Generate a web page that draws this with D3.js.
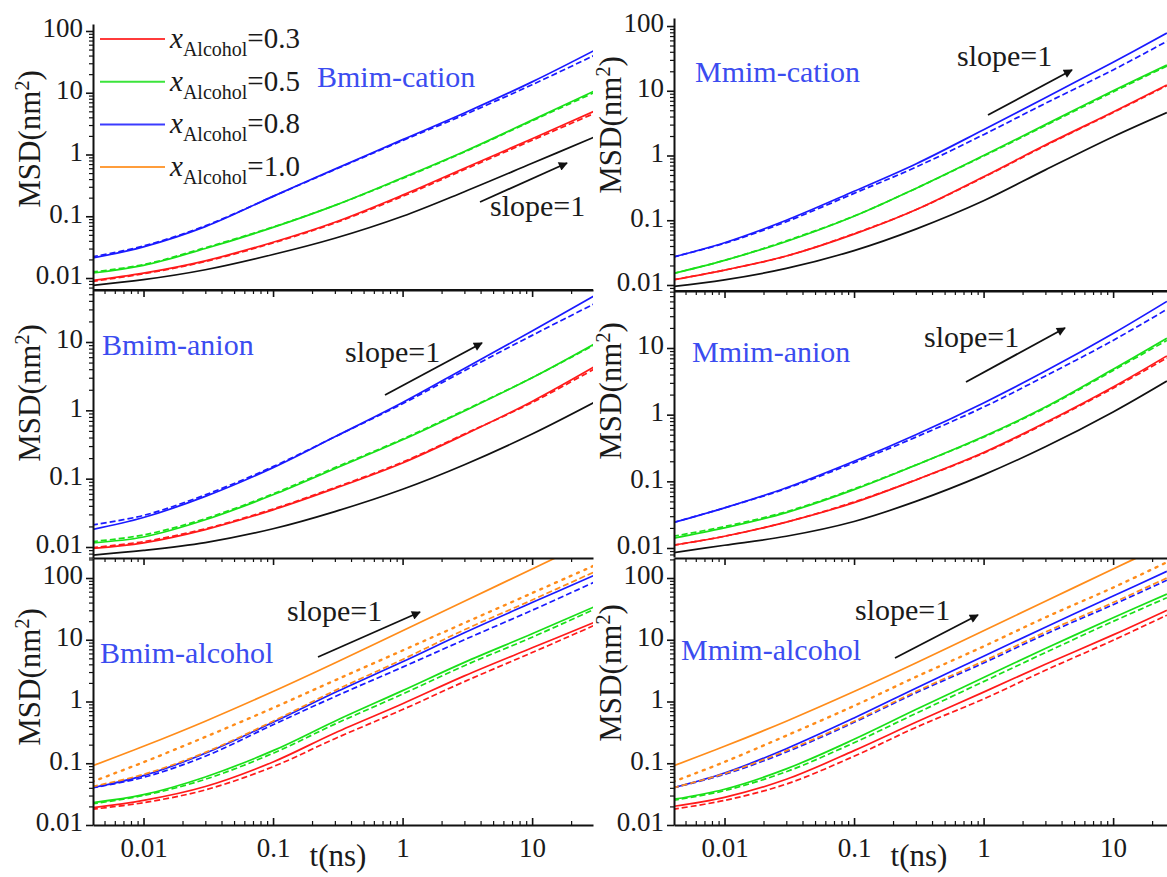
<!DOCTYPE html>
<html><head><meta charset="utf-8">
<script src="https://cdn.jsdelivr.net/npm/d3@7"></script>
<style>body{margin:0;background:#fff}svg{display:block}</style>
</head><body><svg id="c" width="1167" height="877"></svg>
<script>
// ---------------- data (t in ns, MSD in nm^2) ----------------
const tLeft  = [0.004, 0.01, 0.03, 0.1, 0.3, 1, 3, 10, 30];
const tRight = [0.004, 0.01, 0.03, 0.1, 0.3, 1, 3, 10, 26];

const xTickLabels = [0.01, 0.1, 1, 10];
const yTickLabels = [0.01, 0.1, 1, 10, 100];

const legendLabels = ["0.3", "0.5", "0.8", "1.0"];
const panelTitles = ["Bmim-cation", "Mmim-cation", "Bmim-anion", "Mmim-anion", "Bmim-alcohol", "Mmim-alcohol"];

// Bmim-cation
const bCatBlack  = [0.0076, 0.0094, 0.0136, 0.024, 0.044, 0.1, 0.25, 0.72, 1.9];
const bCatRed    = [0.0091, 0.012, 0.019, 0.038, 0.08, 0.22, 0.6, 1.8, 5.0];
const bCatGreen  = [0.012, 0.016, 0.030, 0.066, 0.15, 0.42, 1.12, 3.6, 10.6];
const bCatBlue   = [0.021, 0.032, 0.068, 0.21, 0.58, 1.74, 4.7, 15, 48];
const bCatRedD   = [0.0088, 0.0117, 0.0185, 0.037, 0.078, 0.21, 0.57, 1.7, 4.6];
const bCatGreenD = [0.0125, 0.0165, 0.031, 0.067, 0.15, 0.41, 1.1, 3.5, 10];
const bCatBlueD  = [0.022, 0.033, 0.07, 0.21, 0.57, 1.68, 4.4, 13.5, 40];
// Mmim-cation
const mCatBlack  = [0.0095, 0.012, 0.018, 0.034, 0.073, 0.2, 0.6, 1.95, 4.6];
const mCatRed    = [0.012, 0.017, 0.028, 0.061, 0.145, 0.47, 1.45, 4.7, 12.3];
const mCatGreen  = [0.015, 0.024, 0.047, 0.115, 0.31, 1.0, 3.0, 10, 25];
const mCatBlue   = [0.027, 0.045, 0.1, 0.28, 0.74, 2.5, 7.8, 27.6, 78];
const mCatRedD   = [0.012, 0.017, 0.028, 0.062, 0.145, 0.46, 1.42, 4.6, 12];
const mCatGreenD = [0.015, 0.024, 0.048, 0.116, 0.31, 0.98, 2.9, 9.6, 24];
const mCatBlueD  = [0.027, 0.044, 0.095, 0.26, 0.66, 2.1, 6.4, 21, 58];
// Bmim-anion
const bAniBlack  = [0.0076, 0.0089, 0.0116, 0.0185, 0.033, 0.07, 0.16, 0.45, 1.3];
const bAniRed    = [0.0095, 0.0115, 0.018, 0.035, 0.072, 0.17, 0.44, 1.35, 4.3];
const bAniGreen  = [0.0115, 0.014, 0.025, 0.058, 0.14, 0.37, 0.98, 3.0, 9.3];
const bAniBlue   = [0.018, 0.027, 0.055, 0.145, 0.41, 1.3, 4.1, 14.5, 47];
const bAniRedD   = [0.0098, 0.012, 0.0185, 0.036, 0.074, 0.175, 0.45, 1.3, 4.0];
const bAniGreenD = [0.012, 0.015, 0.026, 0.06, 0.145, 0.38, 1.0, 3.0, 9.0];
const bAniBlueD  = [0.021, 0.029, 0.058, 0.15, 0.41, 1.25, 3.8, 12.5, 36];
// Mmim-anion
const mAniBlack  = [0.0085, 0.011, 0.015, 0.025, 0.05, 0.125, 0.33, 1.1, 3.2];
const mAniRed    = [0.011, 0.015, 0.0245, 0.048, 0.105, 0.27, 0.76, 2.6, 7.6];
const mAniGreen  = [0.014, 0.02, 0.034, 0.075, 0.175, 0.47, 1.3, 4.8, 14];
const mAniBlue   = [0.024, 0.04, 0.08, 0.2, 0.5, 1.5, 4.5, 16.5, 50];
const mAniRedD   = [0.011, 0.015, 0.0245, 0.049, 0.105, 0.265, 0.74, 2.5, 7.1];
const mAniGreenD = [0.015, 0.021, 0.035, 0.077, 0.176, 0.46, 1.27, 4.6, 13];
const mAniBlueD  = [0.024, 0.04, 0.078, 0.19, 0.46, 1.3, 3.8, 13, 38];
// Bmim-alcohol
const bAlcOrange  = [0.09, 0.188, 0.48, 1.45, 4.2, 14, 42, 140, 420];
const bAlcOrangeP = [0.05, 0.104, 0.267, 0.785, 2.2, 6.7, 18.7, 57, 158];
const bAlcOrangeD = [0.042, 0.066, 0.15, 0.48, 1.5, 4.8, 14.5, 44, 125];
const bAlcBlue    = [0.04, 0.063, 0.145, 0.46, 1.4, 4.4, 13, 40, 110];
const bAlcBlueD   = [0.04, 0.059, 0.13, 0.42, 1.2, 3.6, 10, 30, 85];
const bAlcGreen   = [0.023, 0.031, 0.06, 0.16, 0.48, 1.5, 4.3, 12.5, 34];
const bAlcGreenD  = [0.022, 0.03, 0.055, 0.145, 0.43, 1.32, 3.8, 11, 31];
const bAlcRed     = [0.019, 0.025, 0.042, 0.105, 0.31, 0.92, 2.6, 7.4, 19];
const bAlcRedD    = [0.018, 0.023, 0.037, 0.088, 0.25, 0.74, 2.1, 6.2, 17];
// Mmim-alcohol
const mAlcOrange  = [0.09, 0.188, 0.48, 1.45, 4.2, 14, 42, 140, 360];
const mAlcOrangeP = [0.05, 0.105, 0.28, 0.85, 2.5, 7.8, 23, 70, 180];
const mAlcOrangeD = [0.04, 0.068, 0.16, 0.48, 1.45, 4.5, 13.3, 40, 100];
const mAlcBlue    = [0.04, 0.0695, 0.172, 0.54, 1.64, 5.4, 16, 51, 128];
const mAlcBlueD   = [0.04, 0.066, 0.152, 0.46, 1.38, 4.2, 12.3, 37, 92];
const mAlcGreen   = [0.026, 0.038, 0.081, 0.244, 0.74, 2.44, 7.2, 22.7, 55];
const mAlcGreenD  = [0.025, 0.036, 0.073, 0.215, 0.64, 2.1, 6.2, 19.8, 48];
const mAlcRed     = [0.02, 0.028, 0.055, 0.16, 0.46, 1.42, 4, 12, 30];
const mAlcRedD    = [0.018, 0.025, 0.046, 0.13, 0.38, 1.1, 3.2, 9.8, 25];

// ---------------- styling / layout ----------------
const C = {red:"#ff1a1a", green:"#19e019", blue:"#1a1aff", black:"#111", orange:"#ff8c1a"};
const DASH = "6,3", DOT = "2,6";
const FONT = "'Liberation Serif','Times New Roman',Times,serif";
const TITLE_COLOR = "#3b4cf0";
const xDomain = [Math.pow(10,-2.39), Math.pow(10,1.47)];

const S = (v,color,dash) => ({v,color,dash});
const panels = [
 {title:panelTitles[0], t:tLeft, x0:93, yTop:24, yBot:290, lt:2.113, lb:-2.194, top:false, bottom:false,
  titleX:317, titleY:87, msdY:139, slope:{tx:490,ty:216,x1:480,y1:202,x2:567,y2:163},
  series:[S(bCatBlack,C.black),S(bCatRedD,C.red,DASH),S(bCatRed,C.red),S(bCatGreenD,C.green,DASH),S(bCatGreen,C.green),S(bCatBlueD,C.blue,DASH),S(bCatBlue,C.blue)]},
 {title:panelTitles[1], t:tRight, x0:674, yTop:18, yBot:291, lt:2.124, lb:-2.093, top:false, bottom:false,
  titleX:695, titleY:82, msdY:125, slope:{tx:957,ty:66,x1:988,y1:115,x2:1072,y2:70},
  series:[S(mCatBlack,C.black),S(mCatRedD,C.red,DASH),S(mCatRed,C.red),S(mCatGreenD,C.green,DASH),S(mCatGreen,C.green),S(mCatBlueD,C.blue,DASH),S(mCatBlue,C.blue)]},
 {title:panelTitles[2], t:tLeft, x0:93, yTop:290, yBot:558, lt:1.761, lb:-2.161, top:true, bottom:false,
  titleX:102, titleY:355, msdY:393, slope:{tx:345,ty:362,x1:385,y1:395,x2:482,y2:343},
  series:[S(bAniBlack,C.black),S(bAniRedD,C.red,DASH),S(bAniRed,C.red),S(bAniGreenD,C.green,DASH),S(bAniGreen,C.green),S(bAniBlueD,C.blue,DASH),S(bAniBlue,C.blue)]},
 {title:panelTitles[3], t:tRight, x0:674, yTop:291, yBot:557, lt:1.855, lb:-2.135, top:true, bottom:false,
  titleX:692, titleY:362, msdY:391, slope:{tx:924,ty:347,x1:966,y1:382,x2:1065,y2:328},
  series:[S(mAniBlack,C.black),S(mAniRedD,C.red,DASH),S(mAniRed,C.red),S(mAniGreenD,C.green,DASH),S(mAniGreen,C.green),S(mAniBlueD,C.blue,DASH),S(mAniBlue,C.blue)]},
 {title:panelTitles[4], t:tLeft, x0:93, yTop:558, yBot:825, lt:2.324, lb:-2.0, top:true, bottom:true,
  titleX:100, titleY:663, msdY:677, slope:{tx:287,ty:621,x1:318,y1:657,x2:420,y2:612}, tnsX:338,
  series:[S(bAlcRedD,C.red,DASH),S(bAlcRed,C.red),S(bAlcGreenD,C.green,DASH),S(bAlcGreen,C.green),S(bAlcBlueD,C.blue,DASH),S(bAlcBlue,C.blue),S(bAlcOrangeD,C.orange,DASH),S(bAlcOrangeP,C.orange,DOT),S(bAlcOrange,C.orange)]},
 {title:panelTitles[5], t:tRight, x0:674, yTop:558, yBot:825, lt:2.324, lb:-2.0, top:true, bottom:true,
  titleX:681, titleY:660, msdY:673, slope:{tx:855,ty:620,x1:895,y1:658,x2:978,y2:615}, tnsX:919,
  series:[S(mAlcRedD,C.red,DASH),S(mAlcRed,C.red),S(mAlcGreenD,C.green,DASH),S(mAlcGreen,C.green),S(mAlcBlueD,C.blue,DASH),S(mAlcBlue,C.blue),S(mAlcOrangeD,C.orange,DASH),S(mAlcOrangeP,C.orange,DOT),S(mAlcOrange,C.orange)]}
];

const svg = d3.select("#c");
const defs = svg.append("defs");
defs.append("marker").attr("id","arr").attr("viewBox","0 0 10 10").attr("refX",9).attr("refY",5)
  .attr("markerWidth",13).attr("markerHeight",9).attr("markerUnits","userSpaceOnUse").attr("orient","auto")
  .append("path").attr("d","M0,0 L10,5 L0,10 z").attr("fill","#111");

function minorTicks(lo, hi){
  const out=[];
  for(let e=-4;e<=3;e++) for(let m=2;m<=9;m++){const v=m*Math.pow(10,e); if(v>=lo*0.999 && v<=hi*1.001) out.push(v);}
  return out;
}
const fmt = d => d3.format("~g")(d);

function styleAxis(g, size){
  g.attr("font-family",FONT).attr("font-size",size||27);
  g.select(".domain").attr("stroke","#111").attr("stroke-width",2);
  g.selectAll(".tick line").attr("stroke","#111").attr("stroke-width",1.6);
  g.selectAll(".tick text").attr("fill","#1a1a1a");
}

panels.forEach((p,i)=>{
  const x = d3.scaleLog().domain(xDomain).range([p.x0, p.x0+500]);
  const y = d3.scaleLog().domain([Math.pow(10,p.lb), Math.pow(10,p.lt)]).range([p.yBot, p.yTop]);
  const clipId = "clip"+i;
  defs.append("clipPath").attr("id",clipId).append("rect")
    .attr("x",p.x0).attr("y",p.yTop).attr("width",500).attr("height",p.yBot-p.yTop);

  const line = d3.line().x(d=>x(d[0])).y(d=>y(d[1])).curve(d3.curveCatmullRom.alpha(0.5));
  const g = svg.append("g").attr("clip-path",`url(#${clipId})`);
  p.series.forEach(s=>{
    g.append("path").datum(p.t.map((t,k)=>[t,s.v[k]])).attr("d",line)
      .attr("fill","none").attr("stroke",s.color).attr("stroke-width",s.dash===DOT?2.4:1.7)
      .attr("stroke-linecap",s.dash===DOT?"round":"butt")
      .attr("stroke-dasharray",s.dash||null);
  });

  // y axis
  const yd = y.domain();
  const yMaj = yTickLabels.filter(v=>v>=yd[0]&&v<=yd[1]);
  const ya = svg.append("g").attr("transform",`translate(${p.x0},0)`)
    .call(d3.axisLeft(y).tickValues(yMaj).tickFormat(fmt).tickSize(7).tickSizeOuter(0).tickPadding(3));
  styleAxis(ya);
  ya.selectAll(".tick text").attr("dy","0.22em");
  const ym = svg.append("g").attr("transform",`translate(${p.x0},0)`)
    .call(d3.axisLeft(y).tickValues(minorTicks(yd[0],yd[1])).tickFormat("").tickSize(4).tickSizeOuter(0));
  ym.select(".domain").remove();
  ym.selectAll(".tick line").attr("stroke","#111").attr("stroke-width",1.2);

  // top boundary axis (ticks pointing down)
  if(p.top){
    const ta = svg.append("g").attr("transform",`translate(0,${p.yTop})`)
      .call(d3.axisBottom(x).tickValues(xTickLabels).tickFormat("").tickSize(7).tickSizeOuter(0));
    styleAxis(ta);
    const tm = svg.append("g").attr("transform",`translate(0,${p.yTop})`)
      .call(d3.axisBottom(x).tickValues(minorTicks(xDomain[0],xDomain[1])).tickFormat("").tickSize(4).tickSizeOuter(0));
    tm.select(".domain").remove();
    tm.selectAll(".tick line").attr("stroke","#111").attr("stroke-width",1.2);
  } else {
    svg.append("line").attr("x1",p.x0).attr("x2",p.x0+500).attr("y1",p.yBot).attr("y2",p.yBot)
      .attr("stroke","#111").attr("stroke-width",2);
  }
  if(p.bottom){
    const ba = svg.append("g").attr("transform",`translate(0,${p.yBot})`)
      .call(d3.axisBottom(x).tickValues(xTickLabels).tickFormat(fmt).tickSize(-7).tickSizeOuter(0).tickPadding(13));
    styleAxis(ba);
    const bm = svg.append("g").attr("transform",`translate(0,${p.yBot})`)
      .call(d3.axisBottom(x).tickValues(minorTicks(xDomain[0],xDomain[1])).tickFormat("").tickSize(-4).tickSizeOuter(0));
    bm.select(".domain").remove();
    bm.selectAll(".tick line").attr("stroke","#111").attr("stroke-width",1.2);
    svg.append("text").attr("x",p.tnsX).attr("y",866).attr("text-anchor","middle")
      .attr("font-family",FONT).attr("font-size",31).attr("fill","#1a1a1a").text("t(ns)");
  }

  // y label
  const lab = svg.append("text").attr("transform",`translate(${p.x0-53},${p.msdY}) rotate(-90)`)
    .attr("text-anchor","middle").attr("font-family",FONT).attr("font-size",31).attr("fill","#1a1a1a");
  lab.append("tspan").text("MSD(nm");
  lab.append("tspan").attr("baseline-shift","super").attr("font-size",20).text("2");
  lab.append("tspan").text(")");

  // title
  svg.append("text").attr("x",p.titleX).attr("y",p.titleY).attr("font-family",FONT)
    .attr("font-size",30).attr("fill",TITLE_COLOR).text(p.title);

  // slope annotation
  svg.append("text").attr("x",p.slope.tx).attr("y",p.slope.ty).attr("font-family",FONT)
    .attr("font-size",30).attr("fill","#1a1a1a").text("slope=1");
  svg.append("line").attr("x1",p.slope.x1).attr("y1",p.slope.y1).attr("x2",p.slope.x2).attr("y2",p.slope.y2)
    .attr("stroke","#111").attr("stroke-width",1.8).attr("marker-end","url(#arr)");
});

// legend (top-left panel)
const legColors = [C.red, C.green, C.blue, C.orange];
legendLabels.forEach((lbl,i)=>{
  const yy = 39 + i*42.7;
  svg.append("line").attr("x1",100).attr("x2",165).attr("y1",yy).attr("y2",yy)
    .attr("stroke",legColors[i]).attr("stroke-width",2).attr("opacity",0.85);
  const t = svg.append("text").attr("x",170).attr("y",yy+9).attr("font-family",FONT)
    .attr("font-size",29).attr("fill","#1a1a1a");
  t.append("tspan").attr("font-style","italic").text("x");
  t.append("tspan").attr("font-size",20).attr("dy",8).text("Alcohol");
  t.append("tspan").attr("dy",-8).text("="+lbl);
});
</script></body></html>
